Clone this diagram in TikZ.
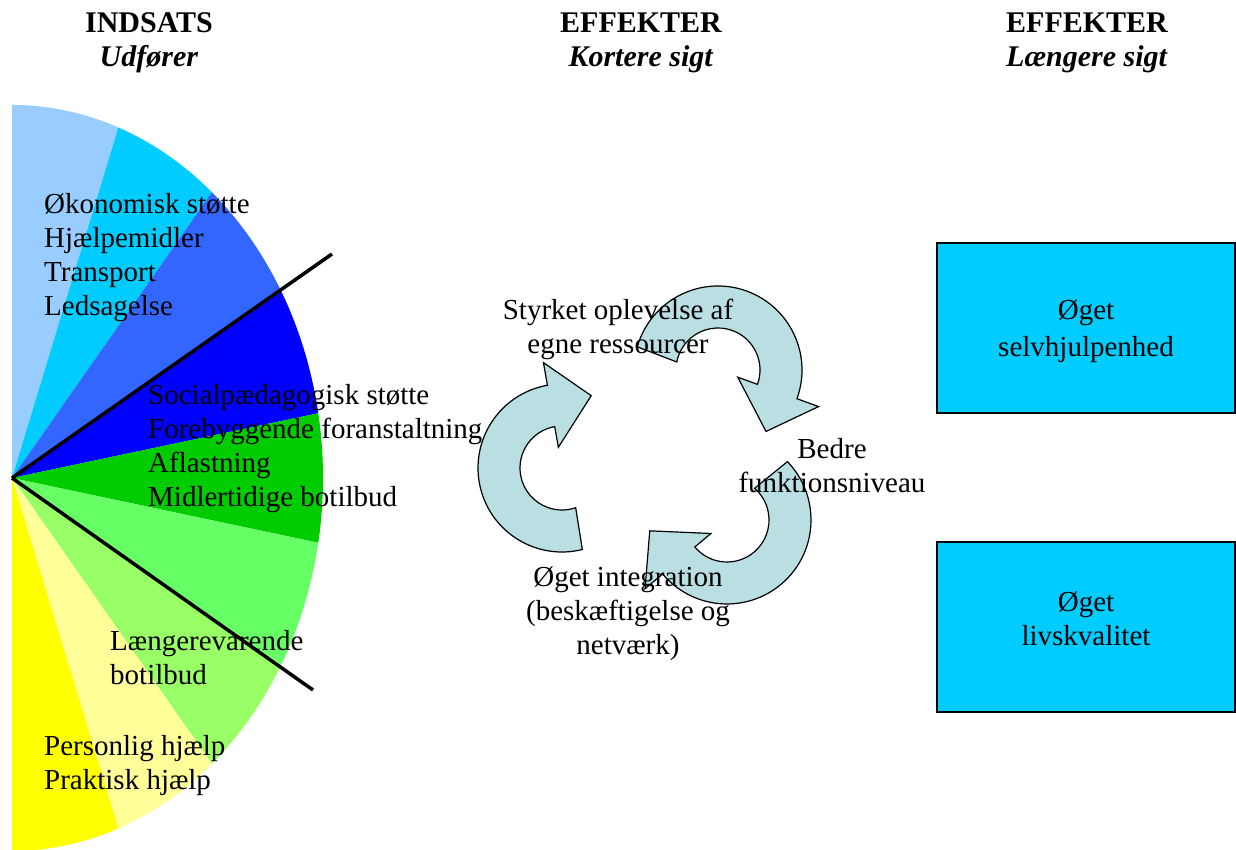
\documentclass[tikz,border=0pt]{standalone}
\usepackage{fontspec}
\setmainfont{Liberation Serif}
\usepackage{tikz}
\definecolor{fanA}{HTML}{99CCFF}
\definecolor{fanB}{HTML}{00CCFF}
\definecolor{fanC}{HTML}{3366FF}
\definecolor{fanD}{HTML}{0000FF}
\definecolor{fanE}{HTML}{00CC00}
\definecolor{fanF}{HTML}{66FF66}
\definecolor{fanG}{HTML}{99FF66}
\definecolor{fanH}{HTML}{FFFF99}
\definecolor{fanI}{HTML}{FFFF00}
\definecolor{boxblue}{HTML}{00CCFF}
\definecolor{cycfill}{HTML}{B9DFE3}
\tikzstyle{txt}=[inner sep=0pt, align=left, anchor=west, font=\fontsize{29}{34}\selectfont]
\tikzstyle{ctrtxt}=[txt, align=center, anchor=center]
\tikzstyle{heading}=[ctrtxt, font=\fontsize{30}{34}\selectfont\bfseries]
\tikzstyle{effect}=[draw=black, line width=1.5pt, fill=boxblue, minimum width=298pt, minimum height=170pt]
\tikzstyle{divider}=[draw, line width=3.5pt, black]
\tikzstyle{cyc}=[draw=black, line width=1.2pt, fill=cycfill, line join=miter]

\begin{document}
\begin{tikzpicture}[x=1pt, y=1pt]
	\useasboundingbox (0,0) rectangle (1236,850);

	% fan of measures
	\coordinate (fc) at (12,372);
	\foreach \a/\col in {90/fanA, 70/fanB, 50/fanC, 30/fanD, 10/fanE, -10/fanF, -30/fanG, -50/fanH, -70/fanI}{
		\fill[\col, shift={(fc)}] (0,0) -- (\a:311 and 373) arc[start angle=\a, delta angle=-20, x radius=311, y radius=373] -- cycle;
	}
	\coordinate (upend) at (332,596);
	\coordinate (lowend) at (313,160);
	\draw[divider] (fc) -- (upend);
	\draw[divider] (fc) -- (lowend);

	% cycle of arrows
	\foreach \cx/\cy/\rot in {562/382/0, 718/480/-120, 727/330/120}{
		\draw[cyc, shift={(\cx,\cy)}, rotate=\rot] (-76:84) arc[start angle=-76, end angle=-260, radius=84]
			-- (-260:107) -- (-292:78) -- (-260:21) -- (-260:42)
			arc[start angle=-260, end angle=-71, radius=42] -- cycle;
	}

	\node[heading] (indsats) at (149,807) {INDSATS\\\textit{Udfører}};
	\node[heading] (kort) at (641,807) {EFFEKTER\\\textit{Kortere sigt}};
	\node[heading] (lang) at (1087,807) {EFFEKTER\\\textit{Længere sigt}};

	\node[txt] (oekonomi) at (44,592) {Økonomisk støtte\\Hjælpemidler\\Transport\\Ledsagelse};
	\node[txt] (social) at (148,401) {Socialpædagogisk støtte\\Forebyggende foranstaltning\\Aflastning\\Midlertidige botilbud};
	\node[txt] (botilbud) at (110,192) {Længerevarende\\botilbud};
	\node[txt] (hjaelp) at (44,84) {Personlig hjælp\\Praktisk hjælp};

	\node[ctrtxt] (styrket) at (618,521) {Styrket oplevelse af\\egne ressourcer};
	\node[ctrtxt] (bedre) at (832,384) {Bedre\\funktionsniveau};
	\node[ctrtxt] (integ) at (628,236) {Øget integration\\(beskæftigelse og\\netværk)};

	% long-term effects
	\node[effect] (selv) at (1086,522) {};
	\node[effect] (livs) at (1086,223) {};
	\node[ctrtxt, font=\fontsize{29}{37}\selectfont] (selvtxt) at (1086,519) {Øget\\selvhjulpenhed};
	\node[ctrtxt] (livstxt) at (1086,231) {Øget\\livskvalitet};
\end{tikzpicture}
\end{document}
